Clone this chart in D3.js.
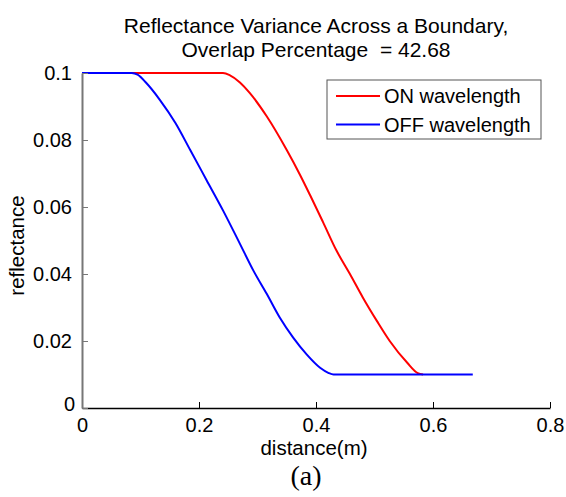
<!DOCTYPE html>
<html>
<head>
<meta charset="utf-8">
<script src="https://cdn.jsdelivr.net/npm/d3@7"></script>
<style>
  body { margin: 0; background: #fff; }
  text { font-family: "Liberation Sans", Arial, sans-serif; fill: #000; }
</style>
</head>
<body>
<div id="chart"></div>
<script>
// series: [distance, reflectance]
const onWavelength = [
	[0, 0.1], [0.241, 0.1], [0.253, 0.0993], [0.27, 0.0972], [0.287, 0.094],
	[0.316, 0.087], [0.35, 0.077], [0.373, 0.0695], [0.39, 0.0635], [0.412, 0.0555],
	[0.435, 0.047], [0.458, 0.040], [0.48, 0.033], [0.504, 0.026], [0.526, 0.020],
	[0.556, 0.0135], [0.574, 0.0104], [0.583, 0.01]
];
const offWavelength = [
	[0, 0.1], [0.085, 0.1], [0.095, 0.0995], [0.11, 0.097], [0.133, 0.092],
	[0.16, 0.085], [0.185, 0.077], [0.213, 0.068], [0.241, 0.059], [0.27, 0.049],
	[0.293, 0.041], [0.316, 0.034], [0.338, 0.027], [0.361, 0.021], [0.384, 0.016],
	[0.407, 0.012], [0.421, 0.0105], [0.43, 0.01], [0.668, 0.01]
];
const seriesNames = ['ON wavelength', 'OFF wavelength'];
const seriesColors = ['#ff0000', '#0000ff'];
const xTicks = [0, 0.2, 0.4, 0.6, 0.8];
const yTicks = [0, 0.02, 0.04, 0.06, 0.08, 0.1];
const titleLines = ['Reflectance Variance Across a Boundary,', 'Overlap Percentage  = 42.68'];

const width = 566, height = 497;
const margin = {top: 73, right: 16, bottom: 89, left: 82};
const innerWidth = width - margin.left - margin.right,
	innerHeight = height - margin.top - margin.bottom;

const svg = d3.select('#chart').append('svg').attr('width', width).attr('height', height);
const g = svg.append('g').attr('transform', `translate(${margin.left},${margin.top})`);

const x = d3.scaleLinear().domain([0, 0.8]).range([0, innerWidth]);
const y = d3.scaleLinear().domain([0, 0.1]).range([innerHeight, 0]);

//title
svg.append('g').selectAll('text')
	.data(titleLines)
	.enter().append('text')
	.attr('x', margin.left + innerWidth / 2)
	.attr('y', (d, i) => 33 + i * 23.5)
	.attr('text-anchor', 'middle')
	.attr('font-size', 21)
	.style('white-space', 'pre')
	.text(d => d);

//lines
const line = d3.line().x(d => x(d[0])).y(d => y(d[1])).curve(d3.curveMonotoneX);
g.selectAll('path.series')
	.data([onWavelength, offWavelength])
	.enter().append('path')
	.attr('class', 'series')
	.attr('d', line)
	.attr('fill', 'none')
	.attr('stroke', (d, i) => seriesColors[i])
	.attr('stroke-width', 2);

//x axis, ticks pointing in
const xAxis = g.append('g')
	.attr('transform', `translate(0,${innerHeight})`)
	.call(d3.axisBottom(x).tickValues(xTicks).tickFormat(d3.format('')).tickSizeInner(-6).tickSizeOuter(0).tickPadding(10));
xAxis.select('.domain').attr('stroke', '#000').attr('stroke-width', 1.5);
xAxis.selectAll('.tick line').attr('stroke', '#000');
xAxis.selectAll('text').attr('font-size', 20).attr('font-family', '"Liberation Sans", Arial, sans-serif');

//y axis
const yAxis = g.append('g')
	.call(d3.axisLeft(y).tickValues(yTicks).tickFormat(d3.format('')).tickSizeInner(-6).tickSizeOuter(0).tickPadding(10));
yAxis.select('.domain').attr('stroke', '#777').attr('stroke-width', 2);
yAxis.selectAll('.tick line').attr('stroke', '#777');
yAxis.selectAll('text').attr('font-size', 20).attr('font-family', '"Liberation Sans", Arial, sans-serif');
yAxis.selectAll('.tick').filter(d => d === 0).select('text').attr('dy', '0.1em').attr('dx', 3);

//axis labels
g.append('text')
	.attr('x', innerWidth / 2 - 2)
	.attr('y', innerHeight + 47)
	.attr('text-anchor', 'middle')
	.attr('font-size', 20.5)
	.text('distance(m)');
g.append('text')
	.attr('transform', `translate(${-58},${innerHeight / 2 + 5}) rotate(-90)`)
	.attr('text-anchor', 'middle')
	.attr('font-size', 20.5)
	.text('reflectance');
svg.append('text')
	.attr('x', 306)
	.attr('y', 485)
	.attr('text-anchor', 'middle')
	.attr('font-size', 28)
	.style('font-family', '"Liberation Serif", "Times New Roman", serif')
	.text('(a)');

//legend
const legend = svg.append('g').attr('transform', 'translate(327,80)');
legend.append('rect')
	.attr('width', 214).attr('height', 59)
	.attr('fill', '#fff').attr('stroke', '#555').attr('stroke-width', 1);
const items = legend.selectAll('g.item')
	.data(seriesNames)
	.enter().append('g')
	.attr('class', 'item')
	.attr('transform', (d, i) => `translate(0,${16 + i * 28.5})`);
items.append('line')
	.attr('x1', 9).attr('x2', 53)
	.attr('stroke', (d, i) => seriesColors[i])
	.attr('stroke-width', 2);
items.append('text')
	.attr('x', 57)
	.attr('dy', '0.36em')
	.attr('font-size', 20)
	.text(d => d);
</script>
</body>
</html>
